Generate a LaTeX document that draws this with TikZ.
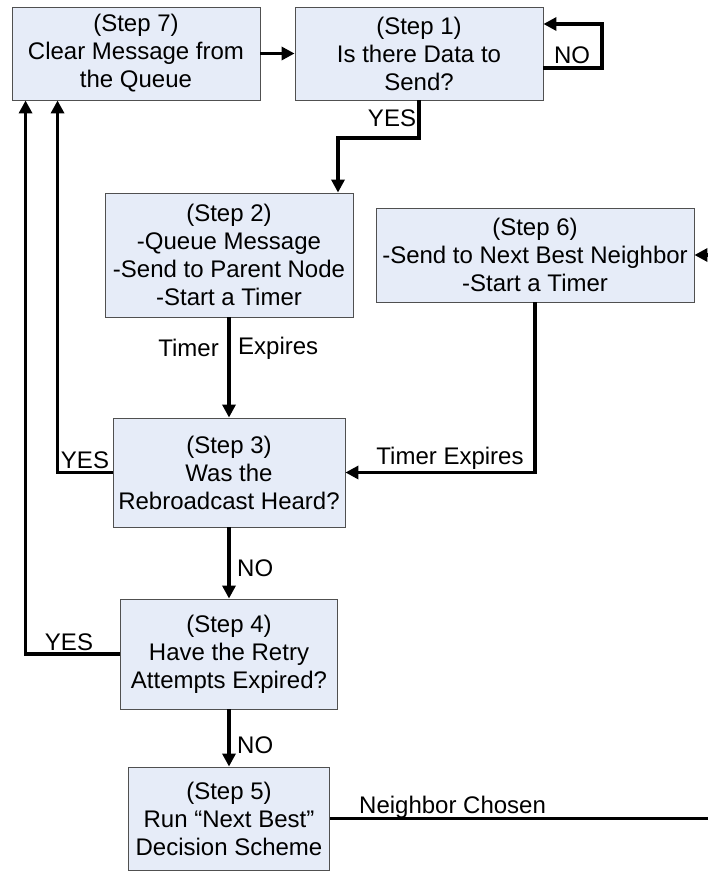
\documentclass[tikz,border=0pt]{standalone}
\usepackage{fontspec}
\setmainfont{Liberation Sans}
\usetikzlibrary{arrows.meta,positioning}

\definecolor{boxfill}{RGB}{230,236,248}
\definecolor{boxline}{RGB}{80,80,80}

\begin{document}
\begin{tikzpicture}[x=1pt, y=-1pt,
		font=\fontsize{24}{28}\selectfont,
		stepbox/.style={draw=boxline, line width=0.9pt, fill=boxfill, align=center, inner sep=0pt},
		flow/.style={line width=3.6pt, -{Triangle[length=13pt,width=13pt]}},
		lbl/.style={inner sep=1pt}]
		\useasboundingbox (0,0) rectangle (707,872);

		\node[stepbox, minimum width=248pt, minimum height=93pt] (s7) at (136,53.5) {(Step 7)\\Clear Message from\\the Queue};
		\node[stepbox, minimum width=248pt, minimum height=93pt] (s1) at (419,53.5) {(Step 1)\\Is there Data to\\Send?};
		\node[stepbox, minimum width=248pt, minimum height=124pt] (s2) at (229,255) {(Step 2)\\-Queue Message\\-Send to Parent Node\\-Start a Timer};
		\node[stepbox, minimum width=318pt, minimum height=94pt] (s6) at (535,255) {(Step 6)\\-Send to Next Best Neighbor\\-Start a Timer};
		\node[stepbox, minimum width=232pt, minimum height=109pt] (s3) at (229,472.5) {(Step 3)\\Was the\\Rebroadcast Heard?};
		\node[stepbox, minimum width=217pt, minimum height=110pt] (s4) at (229,654) {(Step 4)\\Have the Retry\\Attempts Expired?};
		\node[stepbox, minimum width=201pt, minimum height=103pt] (s5) at (229,818.5) {(Step 5)\\Run ``Next Best''\\Decision Scheme};

		\coordinate (noloop) at (602,24);
		\coordinate (yesbend) at (338,138);
		\coordinate (edge) at (713,0);

		\draw[flow] (s7) -- (s1);
		\draw[flow] ([yshift=-14.5pt]s1.east) -| (noloop) -- (s1.east |- noloop);
		\node[lbl] (no1) at (572,55) {NO};
		\draw[flow] (s1.south) |- (yesbend) -- (yesbend |- s2.north);
		\node[lbl] (yes1) at (392,118) {YES};

		\draw[flow] (s2) -- (s3);
		\node[lbl, anchor=east] (timer) at (220,348) {Timer};
		\node[lbl, anchor=west] (expires) at (237,348) {Expires};

		\draw[flow] (s6.south) |- (s3.east);
		\node[lbl] (te) at (450,458) {Timer Expires};

		\draw[flow] (s3.west) -| ([xshift=46pt]s7.south west);
		\node[lbl] (yes3) at (85,460) {YES};
		\draw[flow] (s3) -- (s4);
		\node[lbl, anchor=west] (no3) at (236,568) {NO};

		\draw[flow] (s4.west) -| ([xshift=14pt]s7.south west);
		\node[lbl] (yes4) at (69,642) {YES};
		\draw[flow] (s4) -- (s5);
		\node[lbl, anchor=west] (no4) at (236,745) {NO};

		\draw[flow] (s5.east) -- (s5.east -| edge) |- (s6.east);
		\node[lbl, anchor=south west] (nc) at (358,820) {Neighbor Chosen};
	\end{tikzpicture}
\end{document}
